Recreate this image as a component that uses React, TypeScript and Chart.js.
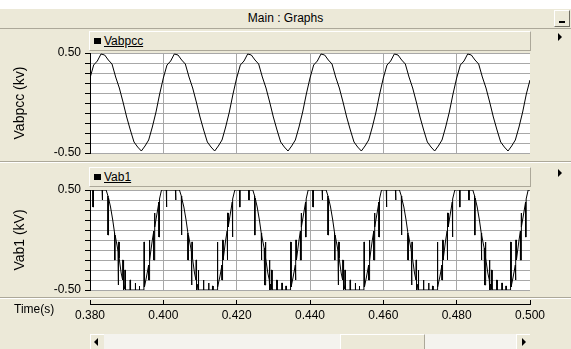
import React, { useEffect, useRef } from "react";
import { Chart, registerables } from "chart.js";

Chart.register(...registerables);

// ---- data ----
const vabpccTime = [
  0.38, 0.381, 0.382, 0.383, 0.384, 0.385, 0.386, 0.387, 0.388, 0.389, 0.39, 0.391, 0.392, 0.393, 0.394, 0.395, 0.396, 0.397, 0.398, 0.399,
  0.4, 0.401, 0.402, 0.403, 0.404, 0.405, 0.406, 0.407, 0.408, 0.409, 0.41, 0.411, 0.412, 0.413, 0.414, 0.415, 0.416, 0.417, 0.418, 0.419,
  0.42, 0.421, 0.422, 0.423, 0.424, 0.425, 0.426, 0.427, 0.428, 0.429, 0.43, 0.431, 0.432, 0.433, 0.434, 0.435, 0.436, 0.437, 0.438, 0.439,
  0.44, 0.441, 0.442, 0.443, 0.444, 0.445, 0.446, 0.447, 0.448, 0.449, 0.45, 0.451, 0.452, 0.453, 0.454, 0.455, 0.456, 0.457, 0.458, 0.459,
  0.46, 0.461, 0.462, 0.463, 0.464, 0.465, 0.466, 0.467, 0.468, 0.469, 0.47, 0.471, 0.472, 0.473, 0.474, 0.475, 0.476, 0.477, 0.478, 0.479,
  0.48, 0.481, 0.482, 0.483, 0.484, 0.485, 0.486, 0.487, 0.488, 0.489, 0.49, 0.491, 0.492, 0.493, 0.494, 0.495, 0.496, 0.497, 0.498, 0.499,
  0.5,
];
const vabpccValues = [
  0.25, 0.38, 0.42, 0.49, 0.48, 0.43, 0.39, 0.26, 0.15, 0.01, -0.14, -0.27, -0.39, -0.44, -0.48, -0.43, -0.37, -0.24, -0.09, 0.09,
  0.25, 0.38, 0.42, 0.49, 0.48, 0.43, 0.39, 0.26, 0.15, 0.01, -0.14, -0.27, -0.39, -0.44, -0.48, -0.43, -0.37, -0.24, -0.09, 0.09,
  0.25, 0.38, 0.42, 0.49, 0.48, 0.43, 0.39, 0.26, 0.15, 0.01, -0.14, -0.27, -0.39, -0.44, -0.48, -0.43, -0.37, -0.24, -0.09, 0.09,
  0.25, 0.38, 0.42, 0.49, 0.48, 0.43, 0.39, 0.26, 0.15, 0.01, -0.14, -0.27, -0.39, -0.44, -0.48, -0.43, -0.37, -0.24, -0.09, 0.09,
  0.25, 0.38, 0.42, 0.49, 0.48, 0.43, 0.39, 0.26, 0.15, 0.01, -0.14, -0.27, -0.39, -0.44, -0.48, -0.43, -0.37, -0.24, -0.09, 0.09,
  0.25, 0.38, 0.42, 0.49, 0.48, 0.43, 0.39, 0.26, 0.15, 0.01, -0.14, -0.27, -0.39, -0.44, -0.48, -0.43, -0.37, -0.24, -0.09, 0.09,
  0.23,
];

const vab1Time = [
  0.38,0.3808,0.3808,0.38095,0.38095,0.3833,0.3833,0.38345,0.38345,0.3844,0.3849,0.3849,0.38505,0.38505,0.3856,0.3862,0.3867,0.3867,0.38685,0.38685,0.3875,0.38765,0.38765,0.3878,0.3878,0.38795,0.38795,0.3885,0.3889,0.3889,0.38905,0.38905,0.3892,0.3892,0.3895,0.3895,0.38965,0.38965,0.3909,0.3909,0.39105,0.39105,0.3923,0.3923,0.39245,0.39245,0.3934,0.3934,0.39355,0.39355,0.3947,0.3947,0.39485,0.39485,0.3954,0.396,0.396,0.39615,0.39615,0.3963,0.3963,0.397,0.3974,0.3974,0.39755,0.39755,0.3977,0.3977,0.3983,0.3988,0.3988,0.39895,0.39895,0.3995,
  0.4,0.4008,0.4008,0.40095,0.40095,0.4033,0.4033,0.40345,0.40345,0.4044,0.4049,0.4049,0.40505,0.40505,0.4056,0.4062,0.4067,0.4067,0.40685,0.40685,0.4075,0.40765,0.40765,0.4078,0.4078,0.40795,0.40795,0.4085,0.4089,0.4089,0.40905,0.40905,0.4092,0.4092,0.4095,0.4095,0.40965,0.40965,0.4109,0.4109,0.41105,0.41105,0.4123,0.4123,0.41245,0.41245,0.4134,0.4134,0.41355,0.41355,0.4147,0.4147,0.41485,0.41485,0.4154,0.416,0.416,0.41615,0.41615,0.4163,0.4163,0.417,0.4174,0.4174,0.41755,0.41755,0.4177,0.4177,0.4183,0.4188,0.4188,0.41895,0.41895,0.4195,
  0.42,0.4208,0.4208,0.42095,0.42095,0.4233,0.4233,0.42345,0.42345,0.4244,0.4249,0.4249,0.42505,0.42505,0.4256,0.4262,0.4267,0.4267,0.42685,0.42685,0.4275,0.42765,0.42765,0.4278,0.4278,0.42795,0.42795,0.4285,0.4289,0.4289,0.42905,0.42905,0.4292,0.4292,0.4295,0.4295,0.42965,0.42965,0.4309,0.4309,0.43105,0.43105,0.4323,0.4323,0.43245,0.43245,0.4334,0.4334,0.43355,0.43355,0.4347,0.4347,0.43485,0.43485,0.4354,0.436,0.436,0.43615,0.43615,0.4363,0.4363,0.437,0.4374,0.4374,0.43755,0.43755,0.4377,0.4377,0.4383,0.4388,0.4388,0.43895,0.43895,0.4395,
  0.44,0.4408,0.4408,0.44095,0.44095,0.4433,0.4433,0.44345,0.44345,0.4444,0.4449,0.4449,0.44505,0.44505,0.4456,0.4462,0.4467,0.4467,0.44685,0.44685,0.4475,0.44765,0.44765,0.4478,0.4478,0.44795,0.44795,0.4485,0.4489,0.4489,0.44905,0.44905,0.4492,0.4492,0.4495,0.4495,0.44965,0.44965,0.4509,0.4509,0.45105,0.45105,0.4523,0.4523,0.45245,0.45245,0.4534,0.4534,0.45355,0.45355,0.4547,0.4547,0.45485,0.45485,0.4554,0.456,0.456,0.45615,0.45615,0.4563,0.4563,0.457,0.4574,0.4574,0.45755,0.45755,0.4577,0.4577,0.4583,0.4588,0.4588,0.45895,0.45895,0.4595,
  0.46,0.4608,0.4608,0.46095,0.46095,0.4633,0.4633,0.46345,0.46345,0.4644,0.4649,0.4649,0.46505,0.46505,0.4656,0.4662,0.4667,0.4667,0.46685,0.46685,0.4675,0.46765,0.46765,0.4678,0.4678,0.46795,0.46795,0.4685,0.4689,0.4689,0.46905,0.46905,0.4692,0.4692,0.4695,0.4695,0.46965,0.46965,0.4709,0.4709,0.47105,0.47105,0.4723,0.4723,0.47245,0.47245,0.4734,0.4734,0.47355,0.47355,0.4747,0.4747,0.47485,0.47485,0.4754,0.476,0.476,0.47615,0.47615,0.4763,0.4763,0.477,0.4774,0.4774,0.47755,0.47755,0.4777,0.4777,0.4783,0.4788,0.4788,0.47895,0.47895,0.4795,
  0.48,0.4808,0.4808,0.48095,0.48095,0.4833,0.4833,0.48345,0.48345,0.4844,0.4849,0.4849,0.48505,0.48505,0.4856,0.4862,0.4867,0.4867,0.48685,0.48685,0.4875,0.48765,0.48765,0.4878,0.4878,0.48795,0.48795,0.4885,0.4889,0.4889,0.48905,0.48905,0.4892,0.4892,0.4895,0.4895,0.48965,0.48965,0.4909,0.4909,0.49105,0.49105,0.4923,0.4923,0.49245,0.49245,0.4934,0.4934,0.49355,0.49355,0.4947,0.4947,0.49485,0.49485,0.4954,0.496,0.496,0.49615,0.49615,0.4963,0.4963,0.497,0.4974,0.4974,0.49755,0.49755,0.4977,0.4977,0.4983,0.4988,0.4988,0.49895,0.49895,0.4995,
  0.5,
];
const vab1Values = [
  0.5,0.5,0.33,0.33,0.5,0.5,0.4,0.4,0.5,0.5,0.44,0.05,0.05,0.42,0.33,0.2,0.07,-0.2,-0.2,0.05,-0.08,-0.12,-0.45,-0.45,-0.02,-0.02,-0.18,-0.33,-0.4,-0.2,-0.2,-0.5,-0.5,-0.44,-0.49,-0.3,-0.3,-0.5,-0.5,-0.4,-0.4,-0.5,-0.5,-0.43,-0.43,-0.5,-0.5,-0.46,-0.46,-0.5,-0.5,-0.02,-0.02,-0.47,-0.37,-0.25,-0.4,-0.4,0,0,-0.2,0,0.09,-0.2,-0.2,0.27,0.27,0.13,0.27,0.38,0.03,0.03,0.41,0.5,
  0.5,0.5,0.33,0.33,0.5,0.5,0.4,0.4,0.5,0.5,0.44,0.05,0.05,0.42,0.33,0.2,0.07,-0.2,-0.2,0.05,-0.08,-0.12,-0.45,-0.45,-0.02,-0.02,-0.18,-0.33,-0.4,-0.2,-0.2,-0.5,-0.5,-0.44,-0.49,-0.3,-0.3,-0.5,-0.5,-0.4,-0.4,-0.5,-0.5,-0.43,-0.43,-0.5,-0.5,-0.46,-0.46,-0.5,-0.5,-0.02,-0.02,-0.47,-0.37,-0.25,-0.4,-0.4,0,0,-0.2,0,0.09,-0.2,-0.2,0.27,0.27,0.13,0.27,0.38,0.03,0.03,0.41,0.5,
  0.5,0.5,0.33,0.33,0.5,0.5,0.4,0.4,0.5,0.5,0.44,0.05,0.05,0.42,0.33,0.2,0.07,-0.2,-0.2,0.05,-0.08,-0.12,-0.45,-0.45,-0.02,-0.02,-0.18,-0.33,-0.4,-0.2,-0.2,-0.5,-0.5,-0.44,-0.49,-0.3,-0.3,-0.5,-0.5,-0.4,-0.4,-0.5,-0.5,-0.43,-0.43,-0.5,-0.5,-0.46,-0.46,-0.5,-0.5,-0.02,-0.02,-0.47,-0.37,-0.25,-0.4,-0.4,0,0,-0.2,0,0.09,-0.2,-0.2,0.27,0.27,0.13,0.27,0.38,0.03,0.03,0.41,0.5,
  0.5,0.5,0.33,0.33,0.5,0.5,0.4,0.4,0.5,0.5,0.44,0.05,0.05,0.42,0.33,0.2,0.07,-0.2,-0.2,0.05,-0.08,-0.12,-0.45,-0.45,-0.02,-0.02,-0.18,-0.33,-0.4,-0.2,-0.2,-0.5,-0.5,-0.44,-0.49,-0.3,-0.3,-0.5,-0.5,-0.4,-0.4,-0.5,-0.5,-0.43,-0.43,-0.5,-0.5,-0.46,-0.46,-0.5,-0.5,-0.02,-0.02,-0.47,-0.37,-0.25,-0.4,-0.4,0,0,-0.2,0,0.09,-0.2,-0.2,0.27,0.27,0.13,0.27,0.38,0.03,0.03,0.41,0.5,
  0.5,0.5,0.33,0.33,0.5,0.5,0.4,0.4,0.5,0.5,0.44,0.05,0.05,0.42,0.33,0.2,0.07,-0.2,-0.2,0.05,-0.08,-0.12,-0.45,-0.45,-0.02,-0.02,-0.18,-0.33,-0.4,-0.2,-0.2,-0.5,-0.5,-0.44,-0.49,-0.3,-0.3,-0.5,-0.5,-0.4,-0.4,-0.5,-0.5,-0.43,-0.43,-0.5,-0.5,-0.46,-0.46,-0.5,-0.5,-0.02,-0.02,-0.47,-0.37,-0.25,-0.4,-0.4,0,0,-0.2,0,0.09,-0.2,-0.2,0.27,0.27,0.13,0.27,0.38,0.03,0.03,0.41,0.5,
  0.5,0.5,0.33,0.33,0.5,0.5,0.4,0.4,0.5,0.5,0.44,0.05,0.05,0.42,0.33,0.2,0.07,-0.2,-0.2,0.05,-0.08,-0.12,-0.45,-0.45,-0.02,-0.02,-0.18,-0.33,-0.4,-0.2,-0.2,-0.5,-0.5,-0.44,-0.49,-0.3,-0.3,-0.5,-0.5,-0.4,-0.4,-0.5,-0.5,-0.43,-0.43,-0.5,-0.5,-0.46,-0.46,-0.5,-0.5,-0.02,-0.02,-0.47,-0.37,-0.25,-0.4,-0.4,0,0,-0.2,0,0.09,-0.2,-0.2,0.27,0.27,0.13,0.27,0.38,0.03,0.03,0.41,0.5,
  0.5,
];

const timeTickValues = [0.38, 0.4, 0.42, 0.44, 0.46, 0.48, 0.5];
const timeTickLabels = ["0.380", "0.400", "0.420", "0.440", "0.460", "0.480", "0.500"];
const yGridValues = [0.5, 0.4, 0.3, 0.2, 0.1, 0, -0.1, -0.2, -0.3, -0.4, -0.5];
const yLabelValues = [0.5, -0.5];
const yTickLabels = ["0.50", "-0.50"];
const panelTitles = ["Vabpcc (kv)", "Vab1 (kV)"];
const legendNames = ["Vabpcc", "Vab1"];
const windowTitle = "Main : Graphs";
const xAxisTitle = "Time(s)";

// ---- styles ----
const FONT = '"Liberation Sans", Arial, sans-serif';
const BEIGE = "#ECE9D8";
const GRID = "#a8a8a8";

const whiteArea = {
  id: "whiteArea",
  beforeDraw(chart: any) {
    const { ctx, chartArea: a } = chart;
    ctx.save();
    ctx.fillStyle = "#ffffff";
    ctx.fillRect(a.left, a.top, a.right - a.left, a.bottom - a.top);
    ctx.restore();
  },
};

function findLabel(v: number, values: number[], labels: string[]) {
  for (let i = 0; i < values.length; i++) {
    if (Math.abs(values[i] - v) < 1e-9) return labels[i];
  }
  return "";
}

function panelConfig(times: number[], values: number[], title: string) {
  const n = Math.min(times.length, values.length);
  const pts = [] as { x: number; y: number }[];
  for (let i = 0; i < n; i++) pts.push({ x: times[i], y: values[i] });
  return {
    type: "line",
    data: {
      datasets: [
        {
          data: pts,
          borderColor: "#000000",
          borderWidth: 1,
          pointRadius: 0,
          tension: 0,
          fill: false,
        },
      ],
    },
    options: {
      animation: false,
      responsive: false,
      devicePixelRatio: 1,
      layout: { padding: { top: 13, bottom: 12, left: 0, right: 0 } },
      plugins: { legend: { display: false }, tooltip: { enabled: false } },
      scales: {
        x: {
          type: "linear",
          min: 0.38,
          max: 0.5,
          afterBuildTicks: (s: any) => {
            s.ticks = timeTickValues.map((v) => ({ value: v }));
          },
          afterFit: (s: any) => {
            s.height = 0;
          },
          ticks: { display: false, autoSkip: false },
          grid: { color: GRID, drawTicks: false, lineWidth: 1 },
          border: { display: false },
        },
        y: {
          type: "linear",
          min: -0.5,
          max: 0.5,
          afterBuildTicks: (s: any) => {
            s.ticks = yGridValues.map((v) => ({ value: v }));
          },
          afterFit: (s: any) => {
            s.width = 90;
          },
          ticks: {
            callback: (v: number) => findLabel(v, yLabelValues, yTickLabels),
            color: "#000000",
            font: { family: FONT, size: 12 },
            padding: 4,
            autoSkip: false,
          },
          grid: { color: GRID, tickColor: "#000000", tickLength: 5, lineWidth: 1 },
          border: { display: true, color: "#000000", width: 1 },
          title: {
            display: true,
            text: title,
            color: "#000000",
            font: { family: FONT, size: 14 },
            padding: { top: 12, bottom: 0 },
          },
        },
      },
    },
    plugins: [whiteArea],
  };
}

function timeAxisConfig() {
  return {
    type: "line",
    data: { datasets: [{ data: [] as any[] }] },
    options: {
      animation: false,
      responsive: false,
      devicePixelRatio: 1,
      layout: { padding: { top: 6, bottom: 0, left: 90, right: 41 } },
      plugins: { legend: { display: false }, tooltip: { enabled: false } },
      scales: {
        x: {
          type: "linear",
          min: 0.38,
          max: 0.5,
          afterBuildTicks: (s: any) => {
            s.ticks = timeTickValues.map((v) => ({ value: v }));
          },
          afterFit: (s: any) => {
            s.height = 30;
          },
          ticks: {
            callback: (v: number) => findLabel(v, timeTickValues, timeTickLabels),
            color: "#000000",
            font: { family: FONT, size: 12 },
            padding: 4,
            maxRotation: 0,
            autoSkip: false,
          },
          grid: { color: "#000000", drawTicks: false, lineWidth: 1 },
          border: { display: true, color: "#000000", width: 1 },
        },
        y: { display: false, min: 0, max: 1 },
      },
    },
  };
}

function ChartCanvas({ config, left, top, width, height }: any) {
  const ref = useRef<HTMLCanvasElement | null>(null);
  useEffect(() => {
    const chart = new Chart(ref.current as HTMLCanvasElement, config() as any);
    return () => chart.destroy();
  }, []);
  return (
    <canvas
      ref={ref}
      width={width}
      height={height}
      style={{ position: "absolute", left, top, width, height }}
    />
  );
}

function LegendBar({ top, name }: { top: number; name: string }) {
  return (
    <div
      style={{
        position: "absolute",
        left: 89,
        top,
        width: 442,
        height: 20,
        boxSizing: "border-box",
        background: BEIGE,
        borderTop: "1px solid #ffffff",
        borderLeft: "1px solid #ffffff",
        borderBottom: "1px solid #aca899",
        borderRight: "1px solid #aca899",
      }}
    >
      <div style={{ position: "absolute", left: 4, top: 6, width: 7, height: 6, background: "#000" }} />
      <div
        style={{
          position: "absolute",
          left: 14,
          top: 2,
          fontSize: 12,
          lineHeight: "14px",
          color: "#000",
          textDecoration: "underline",
          fontFamily: FONT,
        }}
      >
        {name}
      </div>
    </div>
  );
}

function Triangle({ left, top, dir }: { left: number; top: number; dir: "right" | "left" }) {
  return (
    <div
      style={{
        position: "absolute",
        left,
        top,
        width: 0,
        height: 0,
        borderTop: "4px solid transparent",
        borderBottom: "4px solid transparent",
        ...(dir === "right" ? { borderLeft: "4px solid #000" } : { borderRight: "4px solid #000" }),
      }}
    />
  );
}

export default function App() {
  return (
    <div
      style={{
        position: "fixed",
        left: 0,
        top: 0,
        width: 571,
        height: 349,
        background: "#ffffff",
        overflow: "hidden",
        fontFamily: FONT,
      }}
    >
      <div style={{ position: "absolute", left: 0, top: 9, width: 571, height: 340, background: BEIGE }} />
      {/* title bar */}
      <div
        style={{
          position: "absolute",
          left: 0,
          top: 9,
          width: 571,
          height: 20,
          boxSizing: "border-box",
          borderBottom: "1px solid #aca899",
          textAlign: "center",
          fontSize: 12,
          lineHeight: "19px",
          color: "#000",
        }}
      >
        {windowTitle}
      </div>
      <div
        style={{
          position: "absolute",
          left: 554,
          top: 10,
          width: 16,
          height: 17,
          boxSizing: "border-box",
          borderTop: "1px solid #fff",
          borderLeft: "1px solid #fff",
          borderBottom: "1px solid #716f64",
          borderRight: "1px solid #716f64",
        }}
      >
        <div style={{ position: "absolute", left: 4, top: 10, width: 6, height: 2, background: "#000" }} />
      </div>

      <LegendBar top={31} name={legendNames[0]} />
      <LegendBar top={167} name={legendNames[1]} />
      <Triangle left={558} top={33} dir="right" />
      <Triangle left={558} top={169} dir="right" />

      {/* panel separators */}
      <div style={{ position: "absolute", left: 0, top: 161, width: 571, height: 1, background: "#aca899" }} />
      <div style={{ position: "absolute", left: 0, top: 162, width: 571, height: 1, background: "#ffffff" }} />
      <div style={{ position: "absolute", left: 0, top: 297, width: 571, height: 1, background: "#aca899" }} />
      <div style={{ position: "absolute", left: 0, top: 298, width: 571, height: 1, background: "#ffffff" }} />

      <ChartCanvas config={() => panelConfig(vabpccTime, vabpccValues, panelTitles[0])} left={0} top={40} width={530} height={125} />
      <ChartCanvas config={() => panelConfig(vab1Time, vab1Values, panelTitles[1])} left={0} top={177} width={530} height={125} />
      <ChartCanvas config={timeAxisConfig} left={0} top={294} width={571} height={40} />

      <div style={{ position: "absolute", left: 14, top: 302, fontSize: 12, lineHeight: "14px", color: "#000" }}>
        {xAxisTitle}
      </div>

      {/* scrollbar */}
      <div
        style={{
          position: "absolute",
          left: 90,
          top: 334,
          width: 440,
          height: 15,
          background: "#f4f3ee",
        }}
      >
        <div style={{ position: "absolute", left: 0, top: 0, width: 14, height: 15, background: BEIGE, boxSizing: "border-box", borderTop: "1px solid #fff", borderLeft: "1px solid #fff" }} />
        <Triangle left={4} top={4} dir="left" />
        <div style={{ position: "absolute", left: 250, top: 0, width: 85, height: 15, background: BEIGE, boxSizing: "border-box", borderTop: "1px solid #fff", borderLeft: "1px solid #fff", borderRight: "1px solid #aca899" }} />
        <div style={{ position: "absolute", left: 426, top: 0, width: 14, height: 15, background: BEIGE, boxSizing: "border-box", borderTop: "1px solid #fff", borderLeft: "1px solid #fff" }} />
        <Triangle left={432} top={4} dir="right" />
      </div>
    </div>
  );
}
